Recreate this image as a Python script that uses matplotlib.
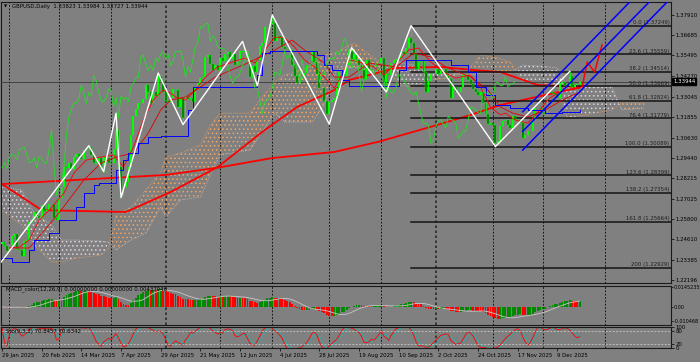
import numpy as np
import pandas as pd
import matplotlib

matplotlib.use("Agg")
import matplotlib.pyplot as plt
from matplotlib.transforms import blended_transform_factory

plt.rcParams["font.family"] = "DejaVu Sans"
plt.rcParams["hatch.linewidth"] = 0.6

# daily closes, 29 Jan 2025 .. 22 Dec 2025 (weekdays)
closes = (
    [1.2445, 1.2420, 1.2395]
    + [1.2425, 1.2480, 1.2495, 1.2405, 1.2400, 1.2365, 1.2450, 1.2460, 1.2565, 1.2580,
       1.2620, 1.2600, 1.2590, 1.2665, 1.2630, 1.2635, 1.2670, 1.2670, 1.2590, 1.2575]
    + [1.2705, 1.2770, 1.2890, 1.2885, 1.2915, 1.2880, 1.2950, 1.2965, 1.2955, 1.2935,
       1.2990, 1.3000, 1.3005, 1.2960, 1.2915, 1.2920, 1.2945, 1.2885, 1.2950, 1.2940, 1.2915]
    + [1.2910, 1.2995, 1.3110, 1.2890, 1.2720, 1.2770, 1.2800, 1.2890, 1.3080, 1.3190,
       1.3230, 1.3270, 1.3265, 1.3290, 1.3375, 1.3330, 1.3265, 1.3330, 1.3310, 1.3430, 1.3400, 1.3330]
    + [1.3280, 1.3275, 1.3300, 1.3350, 1.3345, 1.3245, 1.3300, 1.3180, 1.3310, 1.3290,
       1.3300, 1.3275, 1.3360, 1.3385, 1.3415, 1.3420, 1.3540, 1.3550, 1.3500, 1.3460, 1.3490, 1.3460]
    + [1.3535, 1.3515, 1.3555, 1.3570, 1.3530, 1.3555, 1.3490, 1.3515, 1.3575, 1.3570,
       1.3575, 1.3525, 1.3420, 1.3485, 1.3450, 1.3525, 1.3605, 1.3620, 1.3720, 1.3715, 1.3735]
    + [1.3740, 1.3635, 1.3665, 1.3650, 1.3600, 1.3590, 1.3590, 1.3580, 1.3495, 1.3425,
       1.3385, 1.3415, 1.3420, 1.3445, 1.3490, 1.3515, 1.3575, 1.3510, 1.3440, 1.3355,
       1.3355, 1.3280, 1.3205]
    + [1.3275, 1.3285, 1.3300, 1.3355, 1.3450, 1.3445, 1.3430, 1.3495, 1.3575, 1.3530,
       1.3555, 1.3525, 1.3490, 1.3460, 1.3410, 1.3525, 1.3465, 1.3480, 1.3485, 1.3505, 1.3505]
    + [1.3535, 1.3390, 1.3440, 1.3435, 1.3505, 1.3525, 1.3530, 1.3530, 1.3570, 1.3555,
       1.3595, 1.3650, 1.3625, 1.3555, 1.3470, 1.3510, 1.3525, 1.3450, 1.3335, 1.3400, 1.3440, 1.3445]
    + [1.3470, 1.3440, 1.3460, 1.3470, 1.3425, 1.3410, 1.3300, 1.3360, 1.3330, 1.3330,
       1.3365, 1.3435, 1.3430, 1.3405, 1.3380, 1.3350, 1.3330, 1.3315, 1.3335, 1.3270,
       1.3200, 1.3145, 1.3150]
    + [1.3135, 1.3030, 1.3045, 1.3130, 1.3160, 1.3170, 1.3140, 1.3120, 1.3190, 1.3170,
       1.3165, 1.3150, 1.3060, 1.3080, 1.3100, 1.3100, 1.3170, 1.3240, 1.3240, 1.3230]
    + [1.3210, 1.3205, 1.3335, 1.3330, 1.3325, 1.3320, 1.3295, 1.3385, 1.3390, 1.3370,
       1.3370, 1.3425, 1.3365, 1.3375, 1.33823, 1.33944]
)
first_open = 1.2435

spike_idx = [35, 46, 63, 97, 109, 141, 165, 229, 233]
spike_high = [1.3015, 1.3207, 1.3445, 1.3632, 1.3788, 1.3595, 1.3726, 1.3455, 1.33984]
dip_idx = [3, 41, 48, 73, 103, 132, 155, 199, 233]
dip_low = [1.2249, 1.2862, 1.2708, 1.3140, 1.3370, 1.3142, 1.3333, 1.3010, 1.33727]

date_idx = [0, 16, 32, 48, 64, 80, 96, 112, 128, 144, 160, 176, 192, 208, 224]
date_labels = ["29 Jan 2025", "20 Feb 2025", "14 Mar 2025", "7 Apr 2025", "29 Apr 2025",
               "21 May 2025", "12 Jun 2025", "4 Jul 2025", "28 Jul 2025", "19 Aug 2025",
               "10 Sep 2025", "2 Oct 2025", "24 Oct 2025", "17 Nov 2025", "9 Dec 2025"]
grid_idx = [3, 23, 44, 66, 88, 109, 132, 153, 175, 198, 218, 243]
grid_bold_idx = [66, 175]

price_ticks = [1.37910, 1.36685, 1.35495, 1.34270, 1.33045, 1.31855, 1.30630,
               1.29440, 1.28215, 1.27025, 1.25800, 1.24610, 1.23385, 1.22196]
last_price = 1.33944
header = "GBPUSD,Daily  1.33823 1.33984 1.33727 1.33944"

# ichimoku cloud
cloud_idx = [0, 8, 13, 20, 24, 30, 40, 43, 46, 52, 58, 64, 66, 72, 80, 84, 88, 100, 104, 110,
             114, 125, 130, 135, 142, 150, 155, 160, 166, 172, 180, 188, 193, 200, 205, 210,
             218, 224, 228, 246, 250, 259]
span_a = [1.2634, 1.2546, 1.2427, 1.2327, 1.2327, 1.2350, 1.2368, 1.2410, 1.2605, 1.2652,
          1.2753, 1.2859, 1.2948, 1.2972, 1.3019, 1.3137, 1.3208, 1.3208, 1.3285, 1.3392,
          1.3433, 1.3486, 1.3552, 1.3569, 1.3623, 1.3534, 1.3486, 1.3374, 1.3362, 1.3404,
          1.3415, 1.3463, 1.3552, 1.3534, 1.3510, 1.3392, 1.3386, 1.3374, 1.3179, 1.3226,
          1.3268, 1.3268]
span_b = [1.2770, 1.2753, 1.2617, 1.2546, 1.2457, 1.2457, 1.2451, 1.2445, 1.2398, 1.2457,
          1.2498, 1.2652, 1.2593, 1.2694, 1.2711, 1.2842, 1.2960, 1.2989, 1.3078, 1.3208,
          1.3155, 1.3155, 1.3256, 1.3463, 1.3481, 1.3451, 1.3475, 1.3510, 1.3492, 1.3451,
          1.3451, 1.3427, 1.3445, 1.3445, 1.3445, 1.3492, 1.3486, 1.3475, 1.3362, 1.3362,
          1.3226, 1.3238]

kijun_idx = [0, 4, 11, 13, 19, 23, 30, 33, 37, 39, 46, 49, 51, 55, 59, 64, 75, 77, 103, 105,
             108, 127, 130, 133, 137, 140, 160, 163, 181, 188, 191, 195, 199, 205, 212, 219,
             226, 233]
kijun_px = [1.2350, 1.2327, 1.2398, 1.2457, 1.2498, 1.2575, 1.2652, 1.2735, 1.2782, 1.2794,
            1.2871, 1.2930, 1.2972, 1.3031, 1.3066, 1.3072, 1.3226, 1.3362, 1.3433, 1.3563,
            1.3575, 1.3552, 1.3492, 1.3463, 1.3404, 1.3368, 1.3463, 1.3522, 1.3492, 1.3451,
            1.3362, 1.3315, 1.3256, 1.3238, 1.3226, 1.3208, 1.3214, 1.3226]

tenkan_idx = [3, 7, 11, 15, 19, 25, 29, 34, 40, 45, 49, 53, 57, 61, 65, 68, 70, 74, 78, 82,
              87, 93, 98, 102, 106, 110, 114, 118, 122, 126, 130, 134, 136, 140, 144, 150,
              154, 159, 164, 168, 173, 178, 183, 189, 193, 197, 201, 203, 207, 212, 216, 220,
              224, 228, 233]
tenkan_px = [1.2410, 1.2416, 1.2457, 1.2575, 1.2634, 1.2735, 1.2853, 1.2930, 1.2948, 1.2960,
             1.2889, 1.3007, 1.3167, 1.3285, 1.3344, 1.3327, 1.3303, 1.3285, 1.3344, 1.3421,
             1.3481, 1.3510, 1.3534, 1.3504, 1.3581, 1.3658, 1.3652, 1.3599, 1.3522, 1.3481,
             1.3421, 1.3356, 1.3404, 1.3522, 1.3510, 1.3481, 1.3433, 1.3504, 1.3581, 1.3593,
             1.3510, 1.3451, 1.3415, 1.3433, 1.3362, 1.3244, 1.3197, 1.3208, 1.3167, 1.3149,
             1.3208, 1.3285, 1.3327, 1.3344, 1.3356]

ma_mid_idx = [3, 11, 23, 33, 40, 46, 53, 59, 64, 68, 74, 86, 99, 110, 117, 122, 130, 134, 140,
              148, 159, 166, 173, 179, 189, 196, 201, 206, 212, 219, 226, 233]
ma_mid_px = [1.2410, 1.2410, 1.2617, 1.2812, 1.2913, 1.2948, 1.2972, 1.3090, 1.3226, 1.3285,
             1.3303, 1.3421, 1.3504, 1.3581, 1.3640, 1.3581, 1.3504, 1.3421, 1.3421, 1.3504,
             1.3481, 1.3563, 1.3540, 1.3481, 1.3421, 1.3344, 1.3244, 1.3208, 1.3185, 1.3226,
             1.3285, 1.3333]

ma_100_idx = [0, 16, 50, 68, 87, 106, 119, 134, 140, 148, 159, 177, 190, 201, 216, 233]
ma_100_px = [1.2788, 1.2634, 1.2623, 1.2741, 1.2889, 1.3108, 1.3244, 1.3344, 1.3404, 1.3433,
             1.3475, 1.3481, 1.3463, 1.3451, 1.3374, 1.3362]
ma_200_idx = [0, 66, 87, 109, 134, 152, 173, 189, 201, 216, 233]
ma_200_px = [1.2788, 1.2842, 1.2885, 1.2942, 1.2978, 1.3039, 1.3127, 1.3197, 1.3256, 1.3305, 1.3360]

zigzag_idx = [-12, 35, 41, 46, 48, 63, 73, 97, 103, 109, 132, 141, 155, 165, 199, 229]
zigzag_px = [1.2100, 1.3015, 1.2862, 1.3207, 1.2708, 1.3445, 1.3140, 1.3632, 1.3370, 1.3788,
             1.3142, 1.3595, 1.3333, 1.3726, 1.3010, 1.3455]
proj_idx = [234, 236, 239, 242]
proj_px = [1.3362, 1.3510, 1.3451, 1.3611]

channel_idx = [210, 233]
channel_upper = [1.3216, 1.3562]
channel_mid = [1.3100, 1.3445]
channel_lower = [1.2989, 1.3335]

fib_start = 165
fib_levels = ["0.0", "23.6", "38.2", "50.0", "61.8", "76.4", "100.0", "123.6", "138.2", "161.8", "200"]
fib_prices = [1.37249, 1.35559, 1.34514, 1.33669, 1.32824, 1.31779, 1.30089,
              1.28399, 1.27354, 1.25664, 1.22929]

macd_ticks = [0.0145235, 0.0, -0.010468]
macd_tick_labels = ["0.0145235", "0.00", "-0.010468"]
macd_title = "MACD_color(12,26,9) 0.00000000 0.00000000 0.00437946"
sto_title = "Sto(9,3,3) 70.8457 70.6342"

BG = "#808080"
FS = 3.9
XMIN, XMAX = -0.4, 269.8

fig = plt.figure(figsize=(7.0, 3.62), dpi=100, facecolor=BG)
ax = fig.add_axes([0.00143, 0.2174, 0.9571, 0.7779], facecolor=BG)
ax_m = fig.add_axes([0.00143, 0.1022, 0.9571, 0.1091], facecolor=BG)
ax_s = fig.add_axes([0.00143, 0.0373, 0.9571, 0.0594], facecolor=BG)

x = np.arange(len(closes))
c = np.array(closes)
o = np.array([first_open] + closes[:-1])
hi = np.maximum(o, c)
lo = np.minimum(o, c)
for k, h in zip(spike_idx, spike_high):
    hi[k] = max(hi[k], h)
for k, l in zip(dip_idx, dip_low):
    lo[k] = min(lo[k], l)
up = c >= o

# cloud
ci = np.array(cloud_idx)
sa = np.array(span_a)
sb = np.array(span_b)
ax.fill_between(ci, sa, sb, where=sa >= sb, interpolate=True, facecolor="none",
                edgecolor="#f4a460", hatch="....", linewidth=0, zorder=1)
ax.fill_between(ci, sa, sb, where=sa < sb, interpolate=True, facecolor="none",
                edgecolor="#dcd0dc", hatch="....", linewidth=0, zorder=1)
ax.plot(ci, sa, color="#f4a460", lw=0.5, ls=":", zorder=1)
ax.plot(ci, sb, color="#dcd0dc", lw=0.5, ls=":", zorder=1)

ax.plot(ma_200_idx, ma_200_px, color="#ff0000", lw=1.3, zorder=2)
ax.plot(ma_100_idx, ma_100_px, color="#ff0000", lw=1.3, zorder=2)

# candles
ax.vlines(x, lo, hi, color="#00ff00", lw=0.5, zorder=4)
ax.bar(x[up], (c - o)[up], bottom=o[up], width=0.75, color="#00ff00", linewidth=0, zorder=5)
ax.bar(x[~up], (c - o)[~up], bottom=o[~up], width=0.75, color="#006e00",
       edgecolor="#00ff00", linewidth=0.3, zorder=5)

ax.plot(tenkan_idx, tenkan_px, color="#ff0000", lw=0.6, zorder=6)
ax.plot(ma_mid_idx, ma_mid_px, color="#e00000", lw=0.6, zorder=6)
ax.plot(kijun_idx, kijun_px, color="#0000ff", lw=0.7, drawstyle="steps-post", zorder=6)
ax.plot(x[:-26], c[26:], color="#22e022", lw=0.6, zorder=6)

ax.axhline(last_price, color="#3a3a3a", lw=0.6, zorder=3)

ax.plot(zigzag_idx, zigzag_px, color="white", lw=1.0, zorder=7)
ax.plot(proj_idx, proj_px, color="#ff0000", lw=1.1, zorder=7)

for line in (channel_upper, channel_mid, channel_lower):
    slope = (line[1] - line[0]) / (channel_idx[1] - channel_idx[0])
    x_end = XMAX + 5
    ax.plot([channel_idx[0], x_end], [line[0], line[0] + slope * (x_end - channel_idx[0])],
            color="#0000ff", lw=1.1, zorder=7)

for lvl, p in zip(fib_levels, fib_prices):
    ax.plot([fib_start, XMAX], [p, p], color="#141414", lw=1.1, zorder=3)
    ax.text(XMAX - 0.6, p + 0.0004, f"{lvl} ({p:.5f})", ha="right", va="bottom",
            fontsize=FS, color="#1e1e1e", zorder=8)

ax.text(0.004, 0.982, "\u25bc", transform=ax.transAxes, fontsize=3.0, va="center", ha="left")
ax.text(0.016, 0.982, header, transform=ax.transAxes, fontsize=FS, va="center", ha="left")

trans = blended_transform_factory(ax.transAxes, ax.transData)
ax.text(1.003, last_price, f"{last_price:.5f}", transform=trans, ha="left", va="center",
        fontsize=FS, color="white", clip_on=False, zorder=10,
        bbox=dict(boxstyle="square,pad=0.2", fc="black", ec="black"))

ax.set_ylim(1.2201, 1.3867)
ax.set_yticks(price_ticks)
ax.set_yticklabels([f"{p:.5f}" for p in price_ticks])

# MACD
s = pd.Series(closes)
macd = s.ewm(span=12, adjust=False).mean() - s.ewm(span=26, adjust=False).mean()
signal = macd.rolling(9, min_periods=1).mean()
rising = macd.diff().fillna(0).to_numpy() >= 0
mv = macd.to_numpy()
ax_m.bar(x[rising], mv[rising], width=0.75, color="#008a00", linewidth=0)
ax_m.bar(x[~rising], mv[~rising], width=0.75, color="#ff0000", linewidth=0)
ax_m.plot(x, signal, color="#c8c8c8", lw=0.6)
ax_m.set_ylim(-0.0135, 0.0160)
ax_m.set_yticks(macd_ticks)
ax_m.set_yticklabels(macd_tick_labels)
ax_m.text(0.0075, 0.9, macd_title, transform=ax_m.transAxes, fontsize=FS, va="center", ha="left")

# Stochastic from the candle ranges
hs = pd.Series(hi)
ls_ = pd.Series(lo)
ll = ls_.rolling(9, min_periods=1).min()
hh = hs.rolling(9, min_periods=1).max()
k_line = 100 * (s - ll).rolling(3, min_periods=1).sum() / (hh - ll).rolling(3, min_periods=1).sum()
d_line = k_line.rolling(3, min_periods=1).mean()
ax_s.plot(x, d_line, color="#20b2aa", lw=0.6)
ax_s.plot(x, k_line, color="#ff0000", lw=0.6)
for lv in (80, 20):
    ax_s.axhline(lv, color="#d0d0d0", lw=0.5, ls=(0, (3, 2)))
ax_s.set_ylim(0, 100)
ax_s.set_yticks([0, 20, 80, 100])
ax_s.set_yticklabels(["0", "20", "80", "100"])
ax_s.text(0.0075, 0.78, sto_title, transform=ax_s.transAxes, fontsize=FS, va="center", ha="left")

for a in (ax, ax_m, ax_s):
    a.set_xlim(XMIN, XMAX)
    for g in grid_idx:
        bold = g in grid_bold_idx
        a.axvline(g, color="#2a2a2a" if bold else "black", lw=1.2 if bold else 0.6,
                  ls=(0, (1.5, 1.5)) if bold else (0, (2, 2)), zorder=0.5)
    a.yaxis.tick_right()
    a.tick_params(axis="y", length=2.0, width=0.5, pad=1.2, labelsize=FS, colors="black")
    for sp in a.spines.values():
        sp.set_color("#1a1a1a")
        sp.set_linewidth(0.8)
    a.set_xticks([])

ax_m.tick_params(axis="y", length=1.5, pad=0.6, labelsize=3.5)

ax_s.set_xticks(date_idx)
ax_s.set_xticklabels(date_labels, ha="left")
ax_s.tick_params(axis="x", length=2.0, width=0.5, pad=1.5, labelsize=FS, colors="black")

fig.savefig("out.png", dpi=100, facecolor=BG)
